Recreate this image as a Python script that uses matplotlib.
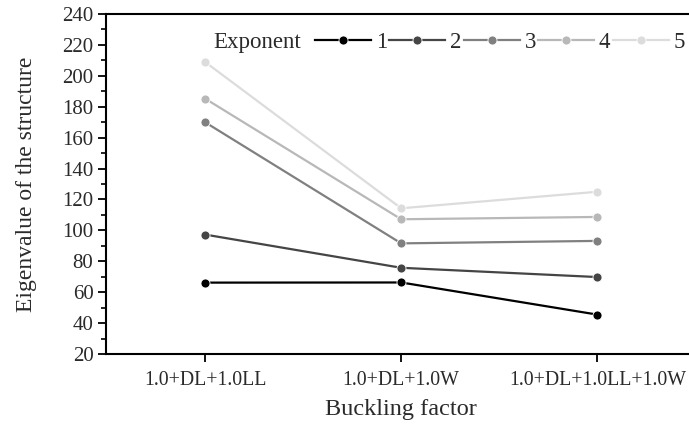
import matplotlib

matplotlib.use("Agg")
import matplotlib.pyplot as plt
from matplotlib.ticker import MultipleLocator

plt.rcParams["font.family"] = ["Liberation Serif", "DejaVu Serif"]

# Load combinations on the x axis
categories = ["1.0+DL+1.0LL", "1.0+DL+1.0W", "1.0+DL+1.0LL+1.0W"]
exponents = ["1", "2", "3", "4", "5"]

# Eigenvalue per exponent
exp1 = [66.2, 66.3, 45.5]
exp2 = [97.3, 75.8, 69.8]
exp3 = [170.0, 91.6, 93.2]
exp4 = [185.3, 107.2, 108.7]
exp5 = [209.0, 114.3, 125.0]
series = [exp1, exp2, exp3, exp4, exp5]
colors = ["#000000", "#454545", "#808080", "#b8b8b8", "#dcdcdc"]
text_color = "#2a2a2a"

fig = plt.figure(figsize=(6.89, 4.25), dpi=100)
ax = fig.add_axes([0.1538, 0.167, 0.857, 0.80])

x = range(len(categories))
for label, values, color in zip(exponents, series, colors):
    ax.plot(x, values, color=color, lw=1.6, marker="o", markersize=6.5,
            markeredgecolor="white", markeredgewidth=0.6, label=label)

ax.set_xlim(-0.505, 2.505)
ax.set_ylim(20, 240)
ax.set_xticks(list(x))
ax.set_xticklabels(categories)
ax.yaxis.set_major_locator(MultipleLocator(20))
ax.yaxis.set_minor_locator(MultipleLocator(10))
ax.tick_params(axis="both", which="major", direction="out", length=6, width=1.3,
               colors="black", labelcolor=text_color)
ax.tick_params(axis="x", which="major", labelsize=14.3, pad=6)
ax.tick_params(axis="y", which="major", labelsize=15, pad=3)
ax.tick_params(axis="y", which="minor", direction="out", length=3.5, width=1.2)
for spine in ax.spines.values():
    spine.set_linewidth(1.5)

ax.set_xlabel("Buckling factor", fontsize=17.5, color=text_color, labelpad=7)
ax.set_ylabel("Eigenvalue of the structure", fontsize=17, color=text_color, labelpad=18)

ax.text(0.181, 0.915, "Exponent", transform=ax.transAxes, fontsize=16.5,
        color=text_color, ha="left", va="center")
ax.legend(loc="center left", bbox_to_anchor=(0.354, 0.915), ncol=5, frameon=False,
          fontsize=16.5, handlelength=2.45, handletextpad=0.2, columnspacing=0.1,
          borderpad=0, borderaxespad=0, labelcolor=text_color)

fig.savefig("out.png", dpi=100)
